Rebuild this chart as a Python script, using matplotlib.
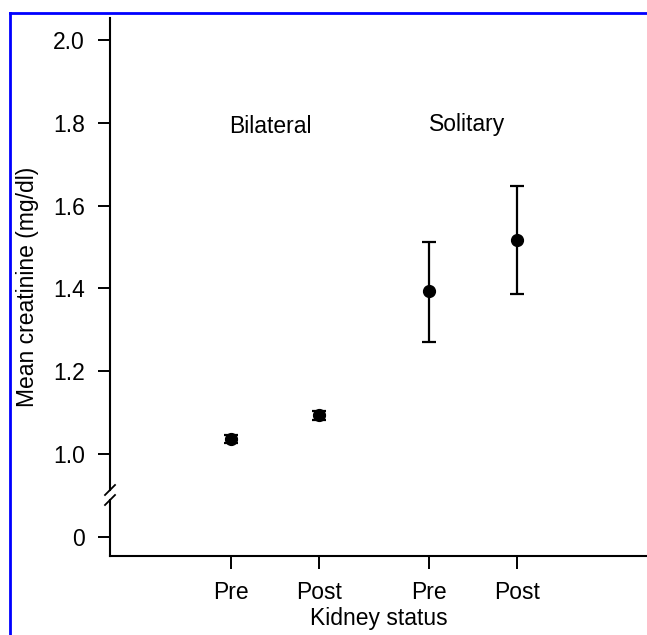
import matplotlib
matplotlib.use("Agg")
import matplotlib.pyplot as plt
from matplotlib.lines import Line2D

plt.rcParams['font.family'] = ['Liberation Sans', 'DejaVu Sans']

# data
groups = ['Bilateral', 'Solitary']
tick_labels = ['Pre', 'Post', 'Pre', 'Post']
x_pos = [1, 2, 3.25, 4.25]
means = [1.036, 1.094, 1.395, 1.516]
lower = [1.027, 1.083, 1.270, 1.386]
upper = [1.045, 1.105, 1.511, 1.648]
y_ticks = [0, 1.0, 1.2, 1.4, 1.6, 1.8, 2.0]


def broken(v):
    # squeeze 0..1.0 into one tick step below 1.0
    return v if v >= 1.0 else 0.8 + v * 0.2


fig = plt.figure(figsize=(6.47, 6.35), dpi=100)
ax = fig.add_axes([110 / 647, 1 - 556 / 635, 537 / 647, 538 / 635])

y = [broken(m) for m in means]
err_lo = [m - l for m, l in zip(means, lower)]
err_hi = [u - m for m, u in zip(means, upper)]
ax.errorbar(x_pos, y, yerr=[err_lo, err_hi], fmt='o', color='black',
            markersize=8.5, elinewidth=1.6, capsize=5, capthick=1.6)

ax.text(1.45, 1.79, groups[0], ha='center', va='center', fontsize=16.5)
ax.text(3.69, 1.795, groups[1], ha='center', va='center', fontsize=16.5)

ax.set_xlim(-0.375, 5.73)
ax.set_ylim(0.754, 2.053)
ax.set_xticks(x_pos)
ax.set_xticklabels(tick_labels, fontsize=16.5)
ax.set_yticks([broken(v) for v in y_ticks])
ax.set_yticklabels(['0'] + ['%.1f' % v for v in y_ticks[1:]], fontsize=16.5)
ax.tick_params(length=9, width=1.4, pad=9)
ax.set_xlabel('Kidney status', fontsize=16.5, labelpad=2)
ax.set_ylabel('Mean creatinine (mg/dl)', fontsize=16.5, labelpad=10)

for s in ['top', 'right', 'left']:
    ax.spines[s].set_visible(False)
ax.spines['bottom'].set_linewidth(1.5)

# left axis drawn in two pieces with the break marks
gap_top = (556 - 490) / 538
gap_bot = (556 - 500) / 538
ax.add_line(Line2D([0, 0], [gap_top, 1], transform=ax.transAxes,
                   color='black', lw=1.5, clip_on=False))
ax.add_line(Line2D([0, 0], [0, gap_bot], transform=ax.transAxes,
                   color='black', lw=1.5, clip_on=False))
dx = 5 / 537
dy = 5 / 538
for yc in [gap_top, gap_bot]:
    ax.add_line(Line2D([-dx, dx], [yc - dy, yc + dy], transform=ax.transAxes,
                       color='black', lw=1.3, clip_on=False))

# blue frame on top and left edges
fy = 1 - 13 / 635
fx = 10 / 647
fig.add_artist(Line2D([fx, 1], [fy, fy], color='blue', lw=2))
fig.add_artist(Line2D([fx, fx], [0, fy], color='blue', lw=2))

fig.savefig('out.png', dpi=100)
